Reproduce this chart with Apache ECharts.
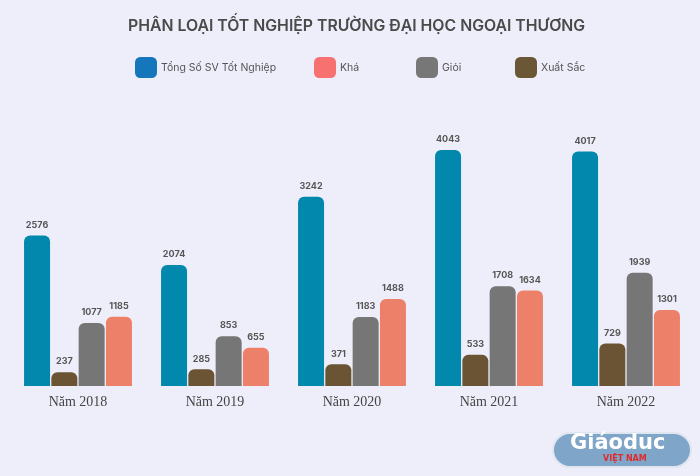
<!DOCTYPE html>
<html><head><meta charset="utf-8">
<script src="https://cdn.jsdelivr.net/npm/echarts@6/dist/echarts.min.js"></script>
<style>html,body{margin:0;padding:0;background:#eeeefa;}#c{width:700px;height:476px;}</style>
</head><body><div id="c"></div>
<script>
const categories = ['Năm 2018','Năm 2019','Năm 2020','Năm 2021','Năm 2022'];
const tong = [2576, 2074, 3242, 4043, 4017];
const xuatSac = [237, 285, 371, 533, 729];
const gioi = [1077, 853, 1183, 1708, 1939];
const kha = [1185, 655, 1488, 1634, 1301];
const names = ['Tổng Số SV Tốt Nghiệp', 'Khá', 'Giỏi', 'Xuất Sắc'];

const chart = echarts.init(document.getElementById('c'));
const lbl = {show:true, position:'top', distance:6, fontFamily:'Inter', fontWeight:'bold', fontSize:9, color:'#555'};
function s(name, data, color){
  return {name, type:'bar', data, barWidth:26, barGap:'5%',
    itemStyle:{color, borderRadius:[6,6,0,0]}, label:lbl};
}
const legendBase = {top:57, padding:0, itemWidth:22, itemHeight:21, icon:'roundRect', itemGap:6,
  textStyle:{fontFamily:'Inter', fontSize:10.5, color:'#555', padding:[0,0,0,-1]}, selectedMode:false};
chart.setOption({
  backgroundColor:'#eeeefa',
  title:{text:'PHÂN LOẠI TỐT NGHIỆP TRƯỜNG ĐẠI HỌC NGOẠI THƯƠNG', left:128, top:18, padding:0,
    textStyle:{fontFamily:'Inter', fontWeight:600, fontSize:15.8, color:'#4a4a4a'}},
  legend:[
    Object.assign({}, legendBase, {left:135, data:[{name:names[0], itemStyle:{color:'#1576bb'}}]}),
    Object.assign({}, legendBase, {left:314, data:[{name:names[1], itemStyle:{color:'#f77171'}}]}),
    Object.assign({}, legendBase, {left:416, data:[{name:names[2], itemStyle:{color:'#777777'}}]}),
    Object.assign({}, legendBase, {left:515, data:[{name:names[3], itemStyle:{color:'#6b5636'}}]})
  ],
  grid:{left:9.5, right:5.5, top:94, bottom:90, containLabel:false},
  xAxis:{type:'category', data:categories, axisLine:{show:false}, axisTick:{show:false},
    axisLabel:{fontFamily:'Liberation Serif', fontSize:14, color:'#444', margin:9}},
  yAxis:{type:'value', min:0, max:5000, show:false, splitLine:{show:false}},
  series:[
    s(names[0], tong, '#0287ad'),
    s(names[3], xuatSac, '#6b5434'),
    s(names[2], gioi, '#767676'),
    s(names[1], kha, '#ed8069')
  ],
  graphic:[
    {type:'rect', left:552, top:432, shape:{width:138, height:34, r:17},
      style:{fill:'#7fa5c9', stroke:'#dfe6f0', lineWidth:2}},
    {type:'text', left:570, top:433, style:{text:'Giáoduc', fontFamily:'DejaVu Sans', fontWeight:'bold', fontSize:21, fill:'#ffffff'}},
    {type:'text', left:603, top:455, style:{text:'VIỆT NAM', fontFamily:'DejaVu Sans', fontWeight:'bold', fontSize:8, fill:'#e02a2a'}}
  ]
});
</script></body></html>
